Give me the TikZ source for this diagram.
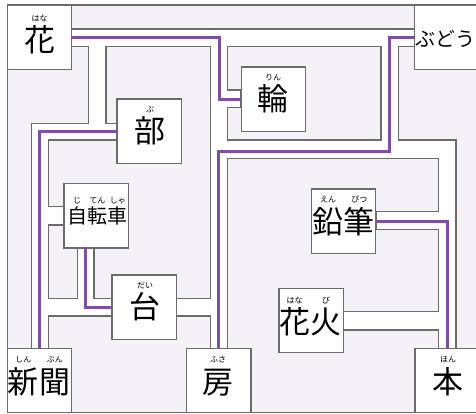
\documentclass[tikz,border=0pt]{standalone}
\usepackage{fontspec}
\newfontfamily\jpfont{Noto Sans CJK JP}
\usetikzlibrary{positioning}

\definecolor{wallgray}{HTML}{6B6B6B}
\definecolor{wallfill}{HTML}{F4F2F6}
\definecolor{linkpurple}{HTML}{7B4FA3}

\begin{document}
\begin{tikzpicture}[x=1pt,y=-1pt]

\tikzset{wall/.style = {draw=wallgray, fill=wallfill, line width=1.3pt}}
\tikzset{wordbox/.style = {draw=wallgray, fill=white, line width=1.3pt, minimum size=64.4pt, inner sep=0, outer sep=0}}
\tikzset{kanji/.style = {font=\jpfont\fontsize{31}{31}\selectfont, inner sep=0, text height=26pt, text depth=2pt}}
\tikzset{smallkanji/.style = {font=\jpfont\fontsize{20}{20}\selectfont, inner sep=0, text height=17pt, text depth=1.3pt}}
\tikzset{furi/.style = {font=\jpfont\fontsize{8}{8}\selectfont, inner sep=0, text height=6.3pt, text depth=0.6pt, label distance=3.2pt}}
\tikzset{link/.style = {draw=linkpurple, line width=3pt}}

\useasboundingbox (0,0) rectangle (476,414);
\clip (0,0) rectangle (476,414);

% frame and walls
\draw[wall, fill=white] (7.3,5) rectangle (490,412.7);
\draw[wall] (71.7,5) -- (414.3,5) -- (414.3,29) -- (71.7,29) -- cycle;
\draw[wall] (7.3,46.7) -- (88.3,46.7) -- (88.3,123.3) -- (31.7,123.3) -- (31.7,348.3) -- (7.3,348.3) -- cycle;
\draw[wall] (106,46.7) -- (210.7,46.7) -- (210.7,298.3) -- (94,298.3) -- (94,206.7) -- (48.3,206.7) -- (48.3,140) -- (116.7,140) -- (116.7,123.3) -- (106,123.3) -- cycle;
\draw[wall] (48.3,225) -- (77.3,225) -- (77.3,298.3) -- (48.3,298.3) -- cycle;
\draw[wall] (48.3,316) -- (210.7,316) -- (210.7,412.7) -- (48.3,412.7) -- cycle;
\draw[wall] (227.7,46.7) -- (381,46.7) -- (381,140) -- (227.7,140) -- (227.7,107.3) -- (241,107.3) -- (241,90) -- (227.7,90) -- cycle;
\draw[wall] (398.3,46.7) -- (490,46.7) -- (490,348.3) -- (456,348.3) -- (456,140) -- (398.3,140) -- cycle;
\draw[wall] (227.7,158.3) -- (438.3,158.3) -- (438.3,211.7) -- (376,211.7) -- (376,229.3) -- (438.3,229.3) -- (438.3,311.7) -- (343.3,311.7) -- (343.3,330) -- (438.3,330) -- (438.3,412.7) -- (227.7,412.7) -- cycle;

% boxes
\node[wordbox] (hana) at (39.5,37.5) {};
\node[wordbox, minimum width=75.7pt] (budou) at (452.2,37.5) {};
\node[wordbox] (rin) at (273.5,99.2) {};
\node[wordbox] (bu) at (149.2,131.2) {};
\node[wordbox] (jitensha) at (96.2,215.8) {};
\node[wordbox] (dai) at (144.2,307.2) {};
\node[wordbox] (shinbun) at (39.5,380.5) {};
\node[wordbox] (fusa) at (218.8,380.5) {};
\node[wordbox] (enpitsu) at (343.5,221.2) {};
\node[wordbox] (hanabi) at (311.3,320.5) {};
\node[wordbox] (hon) at (447.2,380.5) {};

% links
\draw[link] (hana.east) -| ([xshift=-22pt]rin.west) -- (rin.west);
\draw[link] (budou.west) -| (389.3,151.7) -| (fusa.north);
\draw[link] (bu.west) -| (shinbun.north);
\draw[link] ([xshift=-11pt]jitensha.south) |- (dai.west);
\draw[link] (enpitsu.east) -| (hon.north);

% words
\node[kanji, label={[furi]above:はな}] (w-hana) at (39.5,40) {花};
\node[font=\jpfont\fontsize{20}{20}\selectfont, inner sep=0, anchor=west] (w-budou) at (415.5,39) {ぶどう};
\node[kanji, label={[furi]above:りん}] (w-rin) at (273,99) {輪};
\node[kanji, label={[furi]above:ぶ}] (w-bu) at (150,130.7) {部};
\node[smallkanji, label={[furi, label distance=2.5pt]above:じ}] (w-ji) at (77,216) {自};
\node[smallkanji, right=0pt of w-ji, label={[furi, label distance=2.5pt]above:てん}] (w-ten) {転};
\node[smallkanji, right=0pt of w-ten, label={[furi, label distance=2.5pt]above:しゃ}] (w-sha) {車};
\node[kanji, label={[furi]above:だい}] (w-dai) at (145,306.7) {台};
\node[kanji, label={[furi]above:しん}] (w-shin) at (23.5,381) {新};
\node[kanji, right=0pt of w-shin, label={[furi]above:ぶん}] (w-bun) {聞};
\node[kanji, label={[furi]above:ふさ}] (w-fusa) at (218,381) {房};
\node[kanji, label={[furi]above:えん}] (w-en) at (328,221) {鉛};
\node[kanji, right=0pt of w-en, label={[furi]above:ぴつ}] (w-pitsu) {筆};
\node[kanji, label={[furi]above:はな}] (w-hana2) at (294.5,321.7) {花};
\node[kanji, right=0pt of w-hana2, label={[furi]above:び}] (w-bi) {火};
\node[kanji, label={[furi]above:ほん}] (w-hon) at (448,381) {本};

\end{tikzpicture}
\end{document}
